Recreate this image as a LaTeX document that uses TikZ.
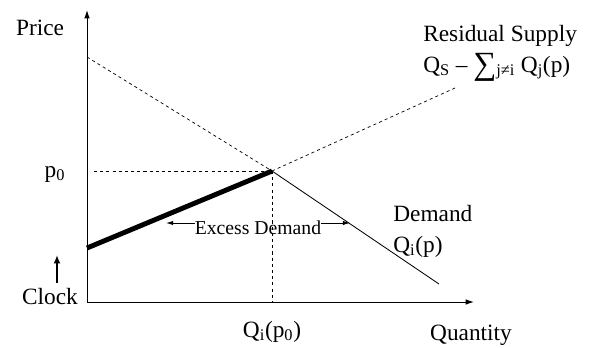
\documentclass[tikz,border=0pt]{standalone}
\usepackage{fontspec}
\setmainfont{Liberation Serif}
\usetikzlibrary{arrows.meta}
\tikzset{
	axis/.style = {line width = 0.7pt, -{Latex[length=6pt, width=4pt]}},
	guide/.style = {line width = 0.5pt, dash pattern = on 2.2pt off 2.2pt},
	pointer/.style = {line width = 0.6pt, -{Latex[length=5pt, width=3pt]}},
	lbl/.style = {inner sep = 0pt, anchor = base}
}
\newcommand{\bigsum}{\raisebox{-0.12em}{\fontsize{23}{20}\selectfont ∑}}
\begin{document}
\begin{tikzpicture}[font = \fontsize{16.6}{20}\selectfont]
	\useasboundingbox (-2.175,-1.125) rectangle (12.675,7.55);
	\coordinate (O) at (0,0);
	\coordinate (Ytop) at (0,7.3);
	\coordinate (Xend) at (9.675,0);
	\coordinate (Dtop) at (0,6.125);
	\coordinate (E) at (4.625,3.275);
	\coordinate (Dend) at (8.8,0.45);
	\coordinate (Sbot) at (0,1.35);
	\coordinate (Send) at (9.2,5.35);
	\coordinate (Pstart) at (0.175,3.275);
	\coordinate (Qfoot) at (4.625,0);
	% axes
	\draw [axis] (O) -- (Ytop);
	\draw [axis] (O) -- (Xend);
	% curves
	\draw [guide] (Dtop) -- (E);
	\draw [line width = 0.6pt] (E) -- (Dend);
	\draw [guide] (E) -- (Send);
	\draw [line width = 3.5pt] (Sbot) -- (E);
	\draw [guide] (Pstart) -- (E);
	\draw [guide] (E) -- (Qfoot);
	% labels
	\node [lbl] (price) at (-1.175,6.675) {Price};
	\node [lbl] (quantity) at (9.6,-0.95) {Quantity};
	\node [lbl] (p0) at (-0.8,3.125) {p\textsubscript{0}};
	\node [lbl] (qp0) at (4.625,-0.875) {Q\textsubscript{i}(p\textsubscript{0})};
	\node [lbl] (clock) at (-0.925,-0.05) {Clock};
	\coordinate (Cbot) at (-0.75,0.475);
	\coordinate (Ctop) at (-0.75,1.175);
	\draw [line width = 2pt, -{Latex[length=6pt, width=5pt]}] (Cbot) -- (Ctop);
	\node [lbl, anchor = base west] (resid) at (8.4,6.525) {Residual Supply};
	\node [lbl, anchor = base west] (residq) at (8.4,5.75) {Q\textsubscript{S} – \bigsum\textsubscript{j≠i} Q\textsubscript{j}(p)};
	\node [lbl, anchor = base west] (dem) at (7.65,2.025) {Demand};
	\node [lbl, anchor = base west] (demq) at (7.65,1.25) {Q\textsubscript{i}(p)};
	\node [lbl, font = \fontsize{14}{16}\selectfont] (excess) at (4.275,1.7) {Excess Demand};
	\coordinate (Lend) at (1.975,1.975);
	\coordinate (Rend) at (6.575,1.975);
	\draw [pointer] (excess.west |- Lend) -- (Lend);
	\draw [pointer] (excess.east |- Rend) -- (Rend);
\end{tikzpicture}
\end{document}
